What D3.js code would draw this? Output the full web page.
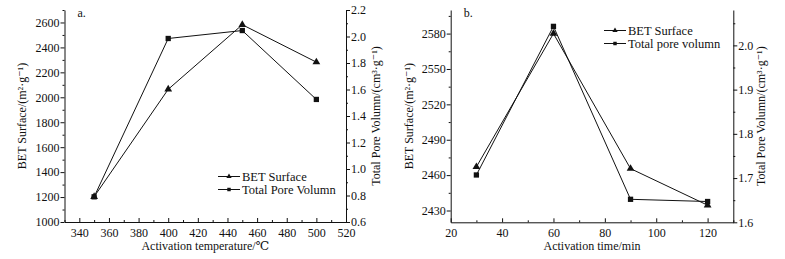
<!DOCTYPE html>
<html>
<head>
<meta charset="utf-8">
<script src="https://cdn.jsdelivr.net/npm/d3@7"></script>
<style>
  body { margin: 0; background: #fff; }
  svg text { font-family: "Times New Roman", "Liberation Serif", "DejaVu Serif", serif; fill: #111; }
</style>
</head>
<body>
<div id="chart"></div>
<script>
// panel a: activation temperature
const tempX = [350, 400, 450, 500]
const tempBET = [1203, 2064, 2582, 2282]
const tempPore = [0.79, 1.985, 2.045, 1.525]
const tempXTicks = [340, 360, 380, 400, 420, 440, 460, 480, 500, 520]
const tempLeftTicks = [1000, 1200, 1400, 1600, 1800, 2000, 2200, 2400, 2600]
const tempRightTicks = [0.6, 0.8, 1.0, 1.2, 1.4, 1.6, 1.8, 2.0, 2.2]

// panel b: activation time
const timeX = [30, 60, 90, 120]
const timeBET = [2467, 2580, 2465.5, 2434.5]
const timePore = [1.707, 2.043, 1.652, 1.647]
const timeXTicks = [20, 40, 60, 80, 100, 120]
const timeLeftTicks = [2430, 2460, 2490, 2520, 2550, 2580]
const timeRightTicks = [1.6, 1.7, 1.8, 1.9, 2.0]

const FONT = '"Times New Roman", "Liberation Serif", "DejaVu Serif", serif'

const svg = d3.select("#chart").append("svg")
    .attr("width", 785)
    .attr("height", 259)
    .attr("font-family", FONT)

function drawPanel(p) {
    let x = d3.scaleLinear().domain(p.xDomain).range([p.left, p.right])
    let yL = d3.scaleLinear().domain(p.leftDomain).range([p.bottom, p.top])
    let yR = d3.scaleLinear().domain(p.rightDomain).range([p.bottom, p.top])

    let g = svg.append("g")

    // axes
    g.append("g")
        .attr("transform", `translate(0,${p.bottom})`)
        .call(d3.axisBottom(x).tickValues(p.xTicks).tickSizeInner(-4).tickSizeOuter(0).tickPadding(6)
            .tickFormat(d3.format("d")))
    g.append("g")
        .attr("transform", `translate(0,${p.bottom})`)
        .call(d3.axisBottom(x).tickValues(p.xMinor).tickSize(-2).tickSizeOuter(0).tickFormat(""))
        .select(".domain").remove()

    g.append("g")
        .attr("transform", `translate(${p.left},0)`)
        .call(d3.axisLeft(yL).tickValues(p.leftTicks).tickSize(4).tickSizeOuter(0).tickPadding(1)
            .tickFormat(d3.format("d")))
    g.append("g")
        .attr("transform", `translate(${p.left},0)`)
        .call(d3.axisLeft(yL).tickValues(p.leftMinor).tickSize(2).tickFormat(""))
        .select(".domain").remove()

    g.append("g")
        .attr("transform", `translate(${p.right},0)`)
        .call(d3.axisRight(yR).tickValues(p.rightTicks).tickSize(4).tickSizeOuter(0).tickPadding(1)
            .tickFormat(d3.format(".1f")))
    g.append("g")
        .attr("transform", `translate(${p.right},0)`)
        .call(d3.axisRight(yR).tickValues(p.rightMinor).tickSize(2).tickFormat(""))
        .select(".domain").remove()

    g.selectAll("g").attr("font-family", FONT)
    g.selectAll(".tick text").style("font-size", "12px")
    g.selectAll(".domain, .tick line").attr("stroke", "#111")

    // lines
    let lineL = d3.line().x((d, i) => x(p.xs[i])).y(d => yL(d))
    let lineR = d3.line().x((d, i) => x(p.xs[i])).y(d => yR(d))
    g.append("path").datum(p.bet).attr("d", lineL)
        .attr("fill", "none").attr("stroke", "#111").attr("stroke-width", 1)
    g.append("path").datum(p.pore).attr("d", lineR)
        .attr("fill", "none").attr("stroke", "#111").attr("stroke-width", 1)

    let tri = d3.symbol().type(d3.symbolTriangle).size(26)
    let sq = d3.symbol().type(d3.symbolSquare).size(28)
    g.selectAll(".tri").data(p.bet).enter().append("path")
        .attr("class", "tri")
        .attr("d", tri)
        .attr("transform", (d, i) => `translate(${x(p.xs[i])},${yL(d)})`)
        .attr("fill", "#111")
    g.selectAll(".sq").data(p.pore).enter().append("path")
        .attr("class", "sq")
        .attr("d", sq)
        .attr("transform", (d, i) => `translate(${x(p.xs[i])},${yR(d)})`)
        .attr("fill", "#111")

    // legend
    let lg = g.append("g").attr("transform", `translate(${p.legendX},${p.legendY})`)
    let items = [{label: p.labels[0], type: d3.symbolTriangle}, {label: p.labels[1], type: d3.symbolSquare}]
    items.forEach((it, i) => {
        let row = lg.append("g").attr("transform", `translate(0,${i * 13})`)
        row.append("line").attr("x1", 0).attr("x2", 22).attr("y1", 0).attr("y2", 0)
            .attr("stroke", "#111")
        row.append("path").attr("d", d3.symbol().type(it.type).size(12)())
            .attr("transform", "translate(11,0)").attr("fill", "#111")
        row.append("text").attr("x", 24).attr("y", 4).style("font-size", "12.5px").text(it.label)
    })

    // titles
    g.append("text")
        .attr("transform", `translate(${p.leftTitleX},${(p.top + p.bottom) / 2}) rotate(-90)`)
        .attr("text-anchor", "middle").style("font-size", "12px")
        .text("BET Surface/(m²·g⁻¹)")
    g.append("text")
        .attr("transform", `translate(${p.rightTitleX},${(p.top + p.bottom) / 2}) rotate(-90)`)
        .attr("text-anchor", "middle").style("font-size", "12px")
        .text("Total Pore Volumn/(cm³·g⁻¹)")
    g.append("text")
        .attr("x", (p.left + p.right) / 2).attr("y", 250)
        .attr("text-anchor", "middle").style("font-size", "12px")
        .text(p.xTitle)
    g.append("text")
        .attr("x", p.left + 13).attr("y", 17)
        .style("font-size", "12px")
        .text(p.tag)
}

drawPanel({
    left: 64.5, right: 346, top: 10, bottom: 222,
    xDomain: [330, 520], leftDomain: [1000, 2700], rightDomain: [0.6, 2.2],
    xs: tempX, bet: tempBET, pore: tempPore,
    xTicks: tempXTicks, xMinor: d3.range(330, 521, 10).filter(v => v % 20 !== 0),
    leftTicks: tempLeftTicks, leftMinor: d3.range(1100, 2701, 200),
    rightTicks: tempRightTicks, rightMinor: d3.range(0.7, 2.2, 0.2),
    legendX: 218, legendY: 176.5,
    labels: ["BET Surface", "Total Pore Volumn"],
    leftTitleX: 26, rightTitleX: 380,
    xTitle: "Activation temperature/℃", tag: "a."
})

drawPanel({
    left: 450.7, right: 733.3, top: 10, bottom: 222.3,
    xDomain: [20, 130], leftDomain: [2420, 2600], rightDomain: [1.6, 2.08],
    xs: timeX, bet: timeBET, pore: timePore,
    xTicks: timeXTicks, xMinor: [30, 50, 70, 90, 110, 130],
    leftTicks: timeLeftTicks, leftMinor: [2445, 2475, 2505, 2535, 2565, 2595],
    rightTicks: timeRightTicks, rightMinor: [1.65, 1.75, 1.85, 1.95, 2.05],
    legendX: 604, legendY: 30.5,
    labels: ["BET Surface", "Total pore volumn"],
    leftTitleX: 413, rightTitleX: 765,
    xTitle: "Activation time/min", tag: "b."
})
</script>
</body>
</html>
